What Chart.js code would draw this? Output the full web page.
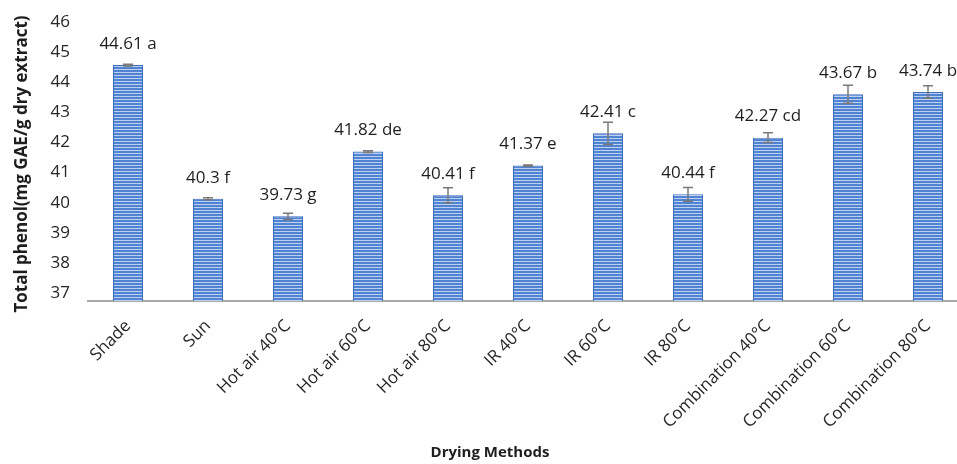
<!DOCTYPE html>
<html>
<head>
<meta charset="utf-8">
<script src="https://cdn.jsdelivr.net/npm/chart.js@4.4.1/dist/chart.umd.min.js"></script>
<style>
  body { margin: 0; overflow: hidden; background: #fff; }
  canvas { display: block; }
</style>
</head>
<body>
<canvas id="chart" width="980" height="464"></canvas>
<script>
const categories = ['Shade', 'Sun', 'Hot air 40°C', 'Hot air 60°C', 'Hot air 80°C', 'IR 40°C', 'IR 60°C', 'IR 80°C', 'Combination 40°C', 'Combination 60°C', 'Combination 80°C'];
const totalPhenol = [44.61, 40.3, 39.73, 41.82, 40.41, 41.37, 42.41, 40.44, 42.27, 43.67, 43.74];
const errors = [0.03, 0.03, 0.1, 0.03, 0.24, 0.02, 0.36, 0.22, 0.16, 0.29, 0.2];
const letters = ['a', 'f', 'g', 'de', 'f', 'e', 'c', 'f', 'cd', 'b', 'b'];
const yTickValues = [37, 38, 39, 40, 41, 42, 43, 44, 45, 46];
const yMin = 37;
const yMax = 46;

const FONT = "'Open Sans', 'Noto Sans', sans-serif";

// striped fill like the excel bars
function stripes() {
  const c = document.createElement('canvas');
  c.width = 4;
  c.height = 3;
  const g = c.getContext('2d');
  g.fillStyle = '#5283d2';
  g.fillRect(0, 0, 4, 3);
  g.fillStyle = '#bad1f2';
  g.fillRect(0, 0, 4, 1);
  return g.createPattern(c, 'repeat');
}

const errorBars = {
  id: 'errorBars',
  afterDatasetsDraw(chart) {
    const ctx = chart.ctx;
    const y = chart.scales.y;
    const meta = chart.getDatasetMeta(0);
    ctx.save();
    ctx.strokeStyle = '#7a7a7a';
    ctx.lineWidth = 1.5;
    meta.data.forEach((bar, i) => {
      const hi = y.getPixelForValue(totalPhenol[i] + errors[i]);
      const lo = y.getPixelForValue(totalPhenol[i] - errors[i]);
      ctx.beginPath();
      ctx.moveTo(bar.x, hi);
      ctx.lineTo(bar.x, lo);
      ctx.moveTo(bar.x - 5, hi);
      ctx.lineTo(bar.x + 5, hi);
      ctx.moveTo(bar.x - 5, lo);
      ctx.lineTo(bar.x + 5, lo);
      ctx.stroke();
    });
    // value labels with letters
    ctx.fillStyle = '#1e1e1e';
    ctx.font = '17px ' + FONT;
    ctx.textAlign = 'center';
    ctx.textBaseline = 'middle';
    meta.data.forEach((bar, i) => {
      ctx.fillText(totalPhenol[i] + ' ' + letters[i], bar.x, bar.y - 21);
    });
    ctx.restore();
  }
};

const axisTitles = {
  id: 'axisTitles',
  afterDraw(chart) {
    const ctx = chart.ctx;
    ctx.save();
    ctx.fillStyle = '#1e1e1e';
    ctx.textAlign = 'center';
    ctx.textBaseline = 'middle';
    ctx.font = 'bold 15px ' + FONT;
    ctx.fillText('Drying Methods', 490, 453);
    ctx.font = 'bold 17px ' + FONT;
    ctx.translate(22, 164);
    ctx.rotate(-Math.PI / 2);
    ctx.fillText('Total phenol(mg GAE/g dry extract)', 0, 0);
    ctx.restore();
  }
};

const ctx = document.getElementById('chart').getContext('2d');

new Chart(ctx, {
  type: 'bar',
  data: {
    labels: categories,
    datasets: [
      {
        data: totalPhenol,
        backgroundColor: stripes(),
        borderColor: '#3d6dbd',
        borderWidth: { left: 1, right: 1, top: 1, bottom: 0 },
        borderSkipped: false,
        categoryPercentage: 1,
        barPercentage: 0.375,
        yAxisID: 'y',
      },
    ],
  },
  options: {
    responsive: false,
    animation: false,
    layout: { padding: { top: 22, right: 12, left: 0, bottom: 0 } },
    plugins: {
      legend: { display: false },
      tooltip: { enabled: false },
    },
    scales: {
      x: {
        grid: { display: false },
        border: { display: true, color: '#a9a9a9', width: 2 },
        ticks: {
          autoSkip: false,
          maxRotation: 45,
          minRotation: 45,
          padding: 7,
          color: '#262626',
          font: { family: FONT, size: 17 },
        },
        afterFit(scale) {
          scale.height = 163;
        },
      },
      y: {
        display: false,
        min: yMin,
        max: yMax,
      },
      // label axis: the picture's tick labels sit a little tighter than the bars' scale
      yLabels: {
        position: 'left',
        min: yMin - 0.266,
        max: yMax,
        grid: { display: false, drawTicks: false },
        border: { display: false },
        afterBuildTicks(scale) {
          scale.ticks = yTickValues.map((v) => ({ value: v }));
        },
        ticks: {
          padding: 18,
          color: '#262626',
          font: { family: FONT, size: 17 },
        },
        afterFit(scale) {
          scale.width = 88;
          scale.paddingTop = 0;
          scale.paddingBottom = 0;
        },
      },
    },
  },
  plugins: [errorBars, axisTitles],
});
</script>
</body>
</html>
